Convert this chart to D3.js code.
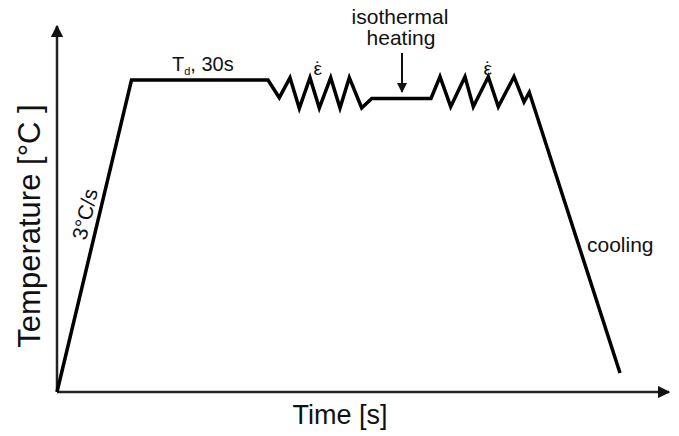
<!DOCTYPE html>
<html>
<head>
<meta charset="utf-8">
<script src="https://cdn.jsdelivr.net/npm/d3@7"></script>
<style>
  body { margin: 0; background: #fff; }
  text { font-family: Arial, "Liberation Sans", Helvetica, sans-serif; fill: #111; }
</style>
</head>
<body>
<script>
// schedule (arbitrary units)
const time = [0, 74.5, 211, 222.3, 233, 242.3, 253, 262.3, 273.7, 283, 292.3, 304.7, 314.7,
              374, 383, 393.7, 408, 416.3, 431.3, 441.3, 457, 467, 472.3, 563];
const temp = [0, 312, 312, 294.3, 314.3, 283.7, 314.3, 284, 314.3, 284, 314.3, 284, 293.5,
              293.5, 315.3, 285.3, 315.3, 285.3, 315.3, 285.3, 315.3, 290, 299.7, 19];

const W = 679, H = 436;
const x = d3.scaleLinear().domain([0, 614]).range([57, 671]);
const y = d3.scaleLinear().domain([0, 368]).range([392, 24]);

const svg = d3.select('body').append('svg')
  .attr('width', W).attr('height', H);

const defs = svg.append('defs');
defs.append('marker')
  .attr('id', 'arr')
  .attr('viewBox', '0 0 10 10')
  .attr('refX', 9).attr('refY', 5)
  .attr('markerWidth', 5).attr('markerHeight', 5)
  .attr('markerUnits', 'strokeWidth')
  .attr('orient', 'auto')
  .append('path').attr('d', 'M0,0 L10,5 L0,10 z').attr('fill', '#111');

// axes
svg.append('line')
  .attr('x1', x(0)).attr('y1', y(0)).attr('x2', x(614) - 2).attr('y2', y(0))
  .attr('stroke', '#222').attr('stroke-width', 2.5)
  .attr('marker-end', 'url(#arr)');
svg.append('line')
  .attr('x1', x(0)).attr('y1', y(0)).attr('x2', x(0)).attr('y2', y(368) + 2)
  .attr('stroke', '#222').attr('stroke-width', 2.5)
  .attr('marker-end', 'url(#arr)');

// the temperature path
const pts = time.map((t, i) => [t, temp[i]]);
const line = d3.line().x(d => x(d[0])).y(d => y(d[1]));
svg.append('path')
  .datum(pts)
  .attr('d', line)
  .attr('fill', 'none')
  .attr('stroke', '#000')
  .attr('stroke-width', 3.5)
  .attr('stroke-linejoin', 'miter');

// axis titles
svg.append('text')
  .attr('x', 340).attr('y', 424)
  .attr('text-anchor', 'middle')
  .style('font-size', '27px')
  .text('Time [s]');

svg.append('text')
  .attr('transform', 'translate(40,226) rotate(-90)')
  .attr('text-anchor', 'middle')
  .style('font-size', '31px')
  .text('Temperature [°C ]');

// annotations
const td = svg.append('text')
  .attr('x', 172).attr('y', 71)
  .style('font-size', '20px');
td.append('tspan').text('T');
td.append('tspan').attr('dy', 4).style('font-size', '11px').text('d');
td.append('tspan').attr('dy', -4).text(', 30s');

// strain-rate symbols (epsilon with a dot above), one text each
[318, 488].forEach(px => {
  const e = svg.append('text')
    .attr('x', px - 4.5).attr('y', 75)
    .style('font-size', '19px');
  e.append('tspan').text('ε');
  e.append('tspan').attr('dx', -7).text('˙');
});

svg.append('text')
  .attr('x', 400).attr('y', 24)
  .attr('text-anchor', 'middle')
  .style('font-size', '21px')
  .text('isothermal');
svg.append('text')
  .attr('x', 401).attr('y', 45)
  .attr('text-anchor', 'middle')
  .style('font-size', '21px')
  .text('heating');

svg.append('line')
  .attr('x1', 402).attr('y1', 53).attr('x2', 402).attr('y2', 92)
  .attr('stroke', '#111').attr('stroke-width', 2)
  .attr('marker-end', 'url(#arr)');

svg.append('text')
  .attr('x', 587).attr('y', 252)
  .style('font-size', '21px')
  .text('cooling');

// ramp label, rotated along the heating line
const ang = Math.atan2(y(temp[1]) - y(temp[0]), x(time[1]) - x(time[0])) * 180 / Math.PI;
svg.append('text')
  .attr('transform', `translate(92,216) rotate(${ang})`)
  .attr('text-anchor', 'middle')
  .style('font-size', '21px')
  .text('3°C/s');
</script>
</body>
</html>
